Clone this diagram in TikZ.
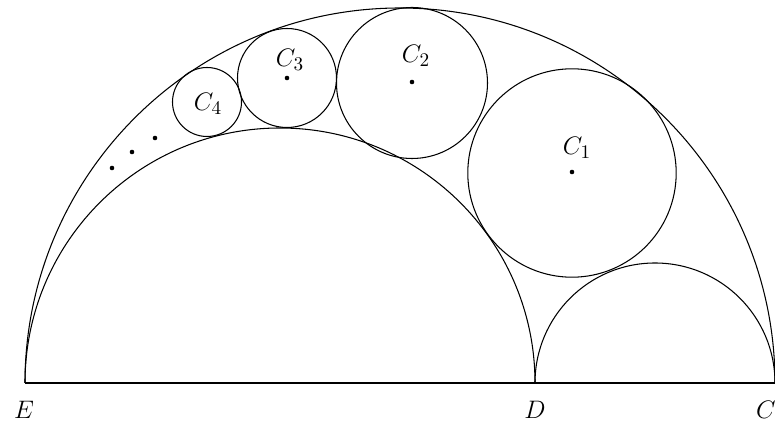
\documentclass[tikz,border=0pt]{standalone}
\begin{document}
\begin{tikzpicture}[x=0.02cm,y=-0.02cm,
  curve/.style={line width=0.6pt},
  lbl/.style={font=\fontsize{15}{18}\selectfont},
  ctr/.style={circle,fill=black,inner sep=0pt,minimum size=2.6pt}]
\useasboundingbox (0,0) rectangle (775,428);
% base points
\coordinate (E) at (25,383);
\coordinate (D) at (535,383);
\coordinate (C) at (775,383);
% semicircles
\draw[curve] (C) arc[start angle=0,end angle=-180,radius=375];
\draw[curve] (D) arc[start angle=0,end angle=-180,radius=255];
\draw[curve] (C) arc[start angle=0,end angle=-180,radius=120];
\draw[line width=1.1pt] (E) -- (C);
% chain circles
\node[curve,draw,circle,minimum size=208.4*0.02cm,inner sep=0pt] (c1) at (572,173) {};
\node[curve,draw,circle,minimum size=151*0.02cm,inner sep=0pt] (c2) at (412,83) {};
\node[curve,draw,circle,minimum size=99*0.02cm,inner sep=0pt] (c3) at (287,78) {};
\node[curve,draw,circle,minimum size=69*0.02cm,inner sep=0pt] (c4) at (207,102) {};
% centre dots
\node[ctr] (d1) at (572,172) {};
\node[ctr] (d2) at (412,82) {};
\node[ctr] (d3) at (287,78) {};
% labels
\node[lbl] (l1) at (577,148) {$C_1$};
\node[lbl] (l2) at (416,56) {$C_2$};
\node[lbl] (l3) at (290,60) {$C_3$};
\node[lbl] (l4) at (208,104) {$C_4$};
% ellipsis dots
\node[ctr] (e1) at (112,168) {};
\node[ctr] (e2) at (132,152) {};
\node[ctr] (e3) at (155,138) {};
% point labels
\node[lbl] (lE) at (24,410) {$E$};
\node[lbl] (lD) at (535,410) {$D$};
\node[lbl] (lC) at (766,410) {$C$};
\end{tikzpicture}
\end{document}
